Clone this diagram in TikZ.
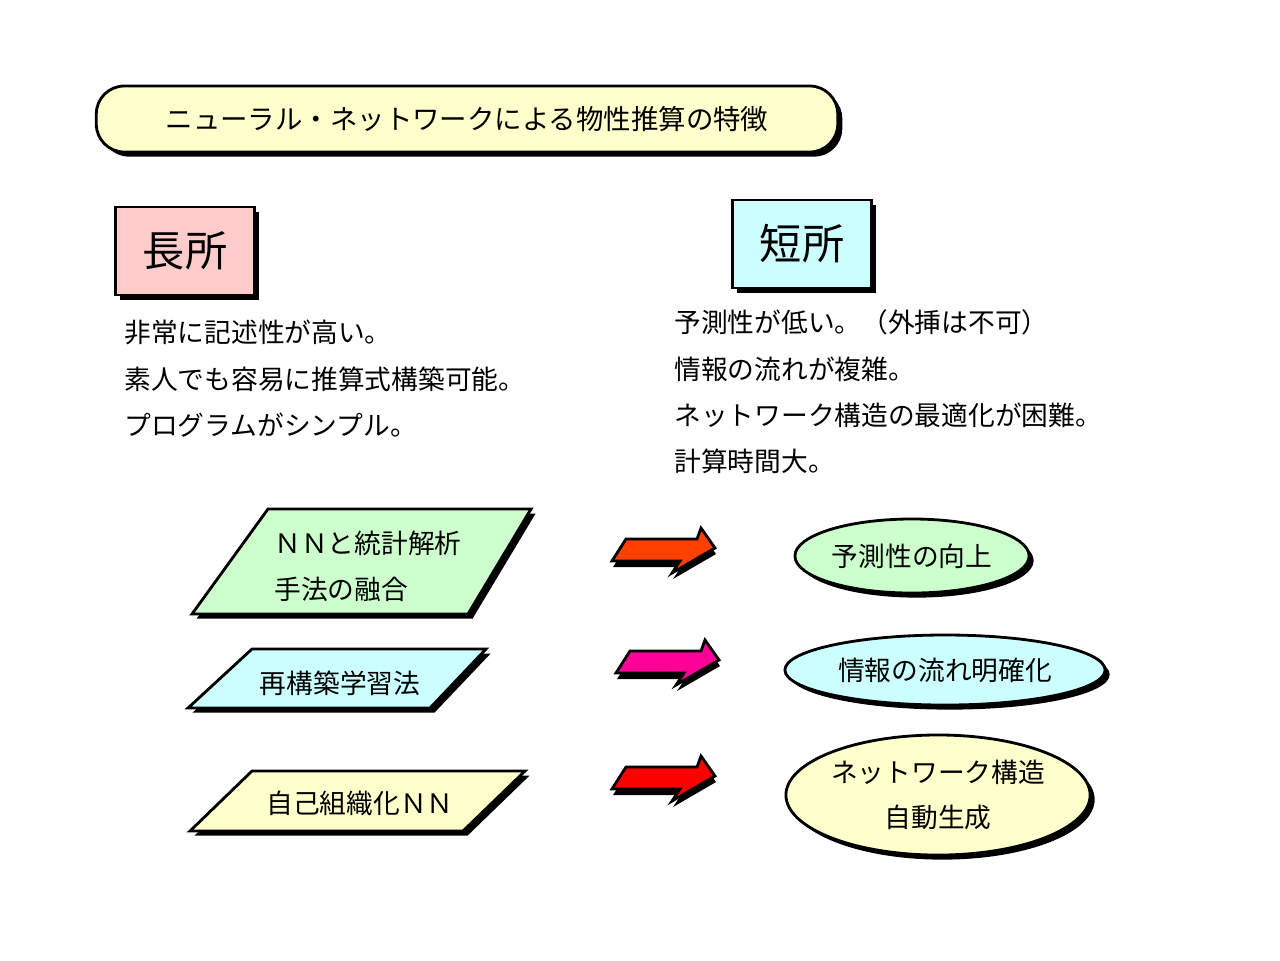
\documentclass[tikz,border=0pt]{standalone}
\usepackage{fontspec}
\setmainfont{Noto Sans CJK JP}
\usetikzlibrary{shapes.geometric,shadows}
\definecolor{lyellow}{HTML}{FFFFCC}
\definecolor{lpink}{HTML}{FFCCCC}
\definecolor{lcyan}{HTML}{CCFFFF}
\definecolor{lgreen}{HTML}{CCFFCC}
\definecolor{arrA}{HTML}{FF4000}
\definecolor{arrB}{HTML}{FF0099}
\definecolor{arrC}{HTML}{FF0000}
\tikzset{
  shade/.style = {drop shadow={shadow xshift=1.3pt, shadow yshift=-1.3pt, fill=black, opacity=1}},
  head/.style = {draw, thick, shade, minimum width=1.39cm, minimum height=0.88cm, font=\fontsize{12}{14}\selectfont},
  txt/.style = {anchor=west, font=\fontsize{7.6}{9}\selectfont},
  para/.style = {draw, thick, shade},
  oval/.style = {draw, thick, ellipse, shade, inner sep=0pt, font=\fontsize{7.6}{9}\selectfont, align=center},
  ptxt/.style = {font=\fontsize{7.6}{9}\selectfont},
}
\newcommand{\blockarrow}[2]{%
  \fill[black] (#2) ++(1,6) +(14,-22) -- +(85,-22) -- +(89,-33) -- +(103,-13) -- +(60,12) -- +(68,0) -- +(0,0) -- cycle;
  \draw[thick, fill=#1] (#2) +(14,-22) -- +(85,-22) -- +(89,-33) -- +(103,-13) -- +(60,12) -- +(68,0) -- +(0,0) -- cycle;}
\begin{document}
\begin{tikzpicture}[x=0.01cm, y=-0.01cm]
  \useasboundingbox (0,0) rectangle (1280,960);

  % title
  \node[draw, thick, fill=lyellow, rounded corners=0.28cm, shade, minimum width=7.41cm, minimum height=0.66cm,
        font=\fontsize{7.8}{9}\selectfont] (title) at (467,119) {ニューラル・ネットワークによる物性推算の特徴};

  % pros and cons
  \node[head, fill=lpink] (pros) at (185,251) {長所};
  \node[head, fill=lcyan] (cons) at (802,244) {短所};

  \node[txt] (p1) at (112,332) {非常に記述性が高い。};
  \node[txt] (p2) at (112,379) {素人でも容易に推算式構築可能。};
  \node[txt] (p3) at (112,425) {プログラムがシンプル。};

  \node[txt] (c1) at (662,322) {予測性が低い。（外挿は不可）};
  \node[txt] (c2) at (662,369) {情報の流れが複雑。};
  \node[txt] (c3) at (662,415) {ネットワーク構造の最適化が困難。};
  \node[txt] (c4) at (662,461) {計算時間大。};

  % methods
  \draw[para, fill=lgreen] (268,509) -- (531,509) -- (468,614) -- (192,614) -- cycle;
  \node[ptxt, align=left] (m1) at (368,566) {ＮＮと統計解析\\[4pt]手法の融合};
  \draw[para, fill=lcyan] (252,649) -- (486,649) -- (430,708) -- (188,708) -- cycle;
  \node[ptxt] (m2) at (340,683) {再構築学習法};
  \draw[para, fill=lyellow] (252,771) -- (525,771) -- (463,831) -- (190,831) -- cycle;
  \node[ptxt] (m3) at (360,803) {自己組織化ＮＮ};

  % arrows
  \blockarrow{arrA}{612,561}
  \blockarrow{arrB}{616,673}
  \blockarrow{arrC}{612,789}

  % results
  \node[oval, fill=lgreen, minimum width=2.34cm, minimum height=0.74cm] (r1) at (912,556) {予測性の向上};
  \node[oval, fill=lcyan, minimum width=3.2cm, minimum height=0.7cm] (r2) at (945,670) {情報の流れ明確化};
  \node[oval, fill=lyellow, minimum width=3.04cm, minimum height=1.2cm] (r3) at (938,795) {ネットワーク構造\\[4pt]自動生成};
\end{tikzpicture}
\end{document}
